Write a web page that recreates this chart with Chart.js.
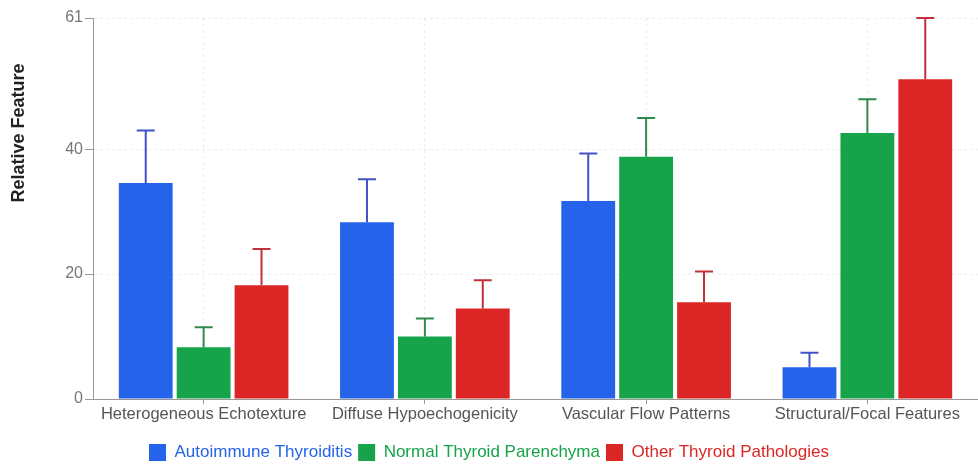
<!DOCTYPE html>
<html>
<head>
<meta charset="utf-8">
<script src="https://cdn.jsdelivr.net/npm/chart.js@4/dist/chart.umd.min.js"></script>
<style>
  html, body { margin: 0; padding: 0; background: #fff; overflow: hidden; }
  #wrap { width: 978px; height: 467px; }
</style>
</head>
<body>
<div id="wrap"><canvas id="chartThyroid"></canvas></div>
<script>
// data
let categories = ['Heterogeneous Echotexture', 'Diffuse Hypoechogenicity', 'Vascular Flow Patterns', 'Structural/Focal Features'];
let autoimmune = [34.6, 28.3, 31.7, 5.1];
let autoimmuneErr = [8.4, 6.9, 7.6, 2.3];
let normal = [8.3, 10.0, 38.8, 42.6];
let normalErr = [3.2, 2.9, 6.2, 5.4];
let other = [18.2, 14.5, 15.5, 51.2];
let otherErr = [5.8, 4.5, 4.9, 9.8];
let yTicks = [0, 20, 40, 61];
let yTitle = 'Relative Feature';

let errors = [autoimmuneErr, normalErr, otherErr];
let errColors = ['#4152c8', '#2f8a4c', '#c0313b'];
let fontFamily = "'Liberation Sans', Arial, sans-serif";

// upper error bars only
let errorBars = {
    id: 'errorBars',
    afterDatasetsDraw(chart) {
        let ctx = chart.ctx;
        let y = chart.scales.y;
        chart.data.datasets.forEach((ds, i) => {
            let meta = chart.getDatasetMeta(i);
            meta.data.forEach((bar, j) => {
                let top = y.getPixelForValue(ds.data[j] + errors[i][j]);
                ctx.save();
                ctx.strokeStyle = errColors[i];
                ctx.lineWidth = 2;
                ctx.beginPath();
                ctx.moveTo(bar.x, bar.y);
                ctx.lineTo(bar.x, top);
                ctx.moveTo(bar.x - 9, top);
                ctx.lineTo(bar.x + 9, top);
                ctx.stroke();
                ctx.restore();
            });
        });
    }
};

// y title sits higher than the axis middle in the original
let sideTitle = {
    id: 'sideTitle',
    afterDraw(chart) {
        let ctx = chart.ctx;
        ctx.save();
        ctx.translate(19, 133);
        ctx.rotate(-Math.PI / 2);
        ctx.font = 'bold 18px ' + fontFamily;
        ctx.fillStyle = '#222';
        ctx.textAlign = 'center';
        ctx.textBaseline = 'middle';
        ctx.fillText(yTitle, 0, 0);
        ctx.restore();
    }
};

let contextThyroid = document.querySelector('#chartThyroid').getContext('2d');

let config = {
    type: 'bar',
    data: {
        labels: categories,
        datasets: [{
            label: 'Autoimmune Thyroiditis',
            data: autoimmune,
            backgroundColor: '#2563eb'
        }, {
            label: 'Normal Thyroid Parenchyma',
            data: normal,
            backgroundColor: '#16a34a'
        }, {
            label: 'Other Thyroid Pathologies',
            data: other,
            backgroundColor: '#dc2626'
        }]
    },
    options: {
        responsive: true,
        maintainAspectRatio: false,
        animation: false,
        categoryPercentage: 0.785,
        barPercentage: 0.93,
        layout: { padding: { top: 18, right: 0, left: 0, bottom: -4 } },
        plugins: {
            legend: {
                position: 'bottom',
                labels: {
                    boxWidth: 17,
                    boxHeight: 17,
                    padding: 6,
                    font: { family: fontFamily, size: 17 },
                    generateLabels(chart) {
                        let items = Chart.defaults.plugins.legend.labels.generateLabels(chart);
                        items.forEach(it => {
                            it.fontColor = chart.data.datasets[it.datasetIndex].backgroundColor;
                            it.lineWidth = 0;
                        });
                        return items;
                    }
                }
            },
            tooltip: { enabled: false }
        },
        scales: {
            x: {
                afterFit(scale) {
                    scale.height = 39;
                },
                grid: {
                    offset: false,
                    color: 'rgba(0,0,0,0.07)',
                    tickColor: '#999',
                    tickLength: 5
                },
                border: { color: '#999', dash: [3, 3] },
                ticks: {
                    color: '#555',
                    padding: 1,
                    font: { family: fontFamily, size: 16.5 },
                    maxRotation: 0
                }
            },
            y: {
                min: 0,
                max: 61,
                afterBuildTicks(scale) {
                    scale.ticks = yTicks.map(v => ({ value: v }));
                },
                afterFit(scale) {
                    scale.width = 93;
                },
                grid: {
                    color: 'rgba(0,0,0,0.07)',
                    tickColor: '#999',
                    tickLength: 8
                },
                border: { color: '#999', dash: [3, 3] },
                ticks: {
                    color: '#777',
                    padding: 2,
                    font: { family: fontFamily, size: 16 }
                }
            }
        }
    },
    plugins: [errorBars, sideTitle]
};

let chartThyroid = new Chart(contextThyroid, config);
</script>
</body>
</html>
